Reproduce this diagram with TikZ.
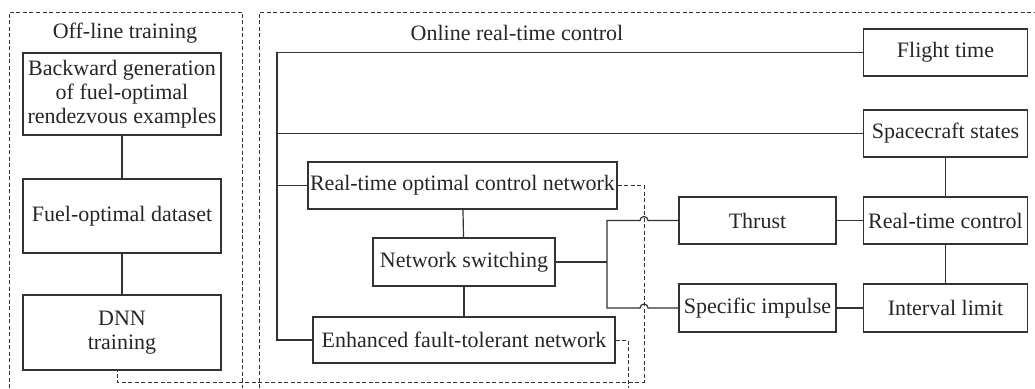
\documentclass[tikz,border=0pt]{standalone}
\usepackage{fontspec}
\setmainfont{Liberation Serif}
\usetikzlibrary{calc}
\begin{document}
\begin{tikzpicture}[x=1pt,y=-1pt,
  box/.style={draw=black!80,line width=1.2pt,align=center,inner sep=2pt,
    font=\rmfamily\fontsize{22}{24}\selectfont,text=black!85},
  conn/.style={draw=black!80,line width=1.2pt},
  dsh/.style={draw=black!80,line width=0.9pt,dash pattern=on 4pt off 2.5pt},
  ttl/.style={font=\rmfamily\fontsize{22}{24}\selectfont,inner sep=0pt,text=black!85}]
\useasboundingbox (0,0) rectangle (1035,388);
% group frames
\draw[dsh] (9,388) -- (9,12) -- (242,12) -- (242,388);
\draw[dsh] (259,388) -- (259,12) -- (1035,12);
\node[ttl] (offt) at (125,33) {Off-line training};
\node[ttl] (ont) at (517,33) {Online real-time control};
% off-line nodes
\node[box,minimum width=198pt,minimum height=82pt] (bg) at (122,94) {Backward generation\\of fuel-optimal\\rendezvous examples};
\node[box,minimum width=198pt,minimum height=74pt] (fd) at (122,216) {Fuel-optimal dataset};
\node[box,minimum width=198pt,minimum height=75pt] (dnn) at (122,332.5) {DNN\\training};
% online nodes
\node[box,minimum width=301pt,minimum height=47pt] (rt) at (462.5,185.5) {Real-time optimal control network};
\node[box,minimum width=182pt,minimum height=48pt] (ns) at (464,262) {Network switching};
\node[box,minimum width=302pt,minimum height=46pt] (eft) at (464,340) {Enhanced fault-tolerant network};
\node[box,minimum width=157pt,minimum height=47pt] (th) at (757.5,220.5) {Thrust};
\node[box,minimum width=164pt,minimum height=47pt] (rtc) at (945.5,220.5) {Real-time control};
\node[box,minimum width=157pt,minimum height=48pt] (si) at (757.5,308) {Specific impulse};
\node[box,minimum width=164pt,minimum height=48pt] (il) at (945.5,308) {Interval limit};
\node[box,minimum width=164pt,minimum height=47pt] (ft) at (945.5,52.5) {Flight time};
\node[box,minimum width=164pt,minimum height=47pt] (ss) at (945.5,133.5) {Spacecraft states};
% helper coordinates
\coordinate (busL) at (277,340);
\coordinate (nbx) at (607,262);
\coordinate (dx) at (644,382);
\coordinate (ebot) at (628,388);
% off-line connectors
\draw[conn] (bg) -- (fd);
\draw[conn] (fd) -- (dnn);
% online connectors
\draw[conn] (ft.west) -| (busL) -- (eft.west);
\draw[conn] (ss.west) -- (ss.west -| busL);
\draw[conn] (rt.west) -- (rt.west -| busL);
\draw[conn] (rt) -- (ns);
\draw[conn] (ns) -- (eft);
\draw[conn] (ns.east) -- (ns.east -| nbx);
\draw[conn] (th.west) -- ($(th.west -| dx)+(4,0)$) arc[start angle=0,end angle=180,radius=4pt]
  -- (th.west -| nbx) -- (si.west -| nbx) -- ($(si.west -| dx)+(-4,0)$)
  arc[start angle=180,end angle=0,radius=4pt] -- (si.west);
\draw[conn] (th) -- (rtc);
\draw[conn] (si) -- (il);
\draw[conn] (ss) -- (rtc);
\draw[conn] (rtc) -- (il);
% dashed links
\draw[dsh] (rt.east) -| (dx) -| ($(dnn.south)+(-5,0)$);
\draw[dsh] (eft.east) -| (ebot);
\end{tikzpicture}
\end{document}
